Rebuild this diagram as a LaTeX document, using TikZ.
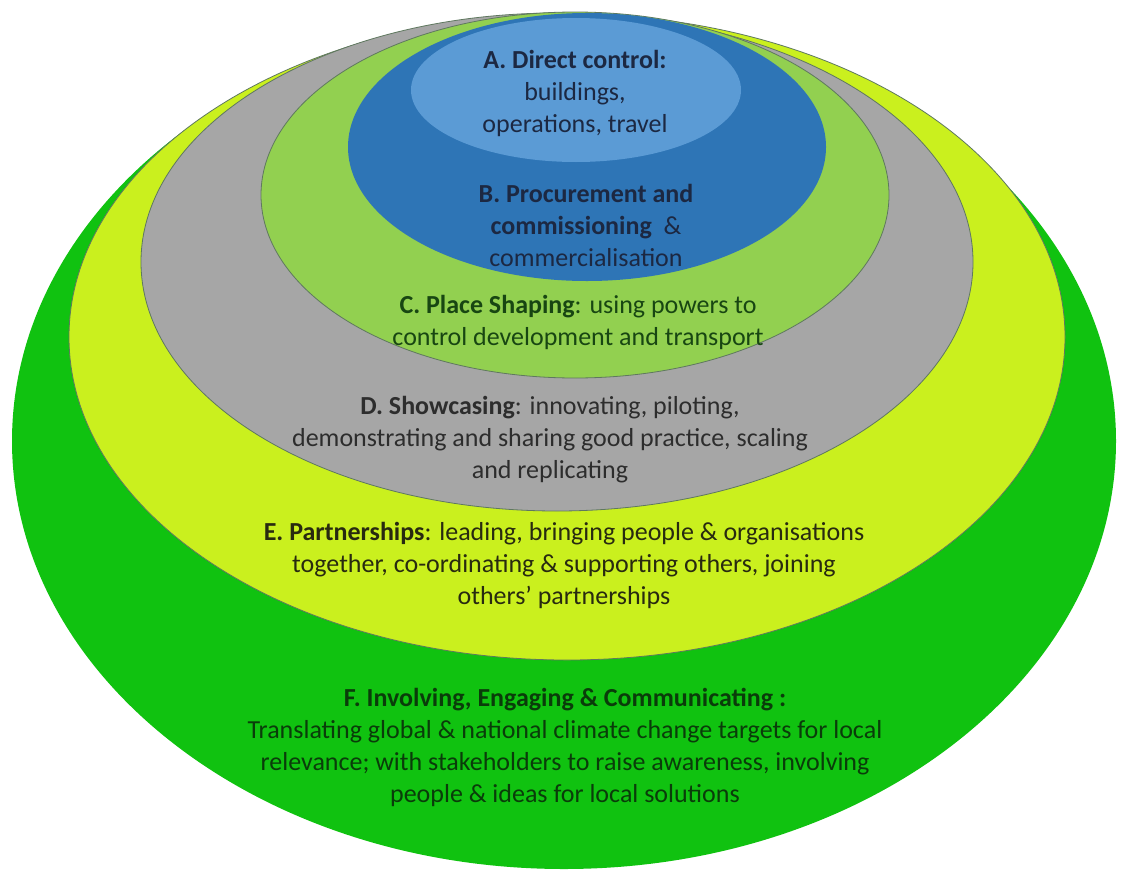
\documentclass[tikz,border=0pt]{standalone}
\usepackage{fontspec}
\setmainfont{Carlito}
\usetikzlibrary{shapes.geometric}
\definecolor{cF}{RGB}{16,194,16}
\definecolor{cE}{RGB}{202,240,30}
\definecolor{cD}{RGB}{166,166,166}
\definecolor{cC}{RGB}{146,208,80}
\definecolor{cB}{RGB}{46,117,182}
\definecolor{cA}{RGB}{91,155,213}
\definecolor{tAB}{RGB}{28,40,66}
\definecolor{tC}{RGB}{24,70,18}
\definecolor{tD}{RGB}{45,45,45}
\definecolor{tE}{RGB}{40,42,16}
\definecolor{tF}{RGB}{10,60,10}
\definecolor{rim}{RGB}{95,120,95}
\begin{document}
\begin{tikzpicture}[x=1pt,y=-1pt,
  ring/.style={ellipse, inner sep=0pt, outer sep=0pt},
  rimmed/.style={draw=rim, line width=0.8pt},
  lbl/.style={align=center, font=\fontsize{26}{32}\selectfont, inner sep=0pt}]
\useasboundingbox (0,0) rectangle (1121,878);
\fill[white] (0,0) rectangle (1121,878);
\node[ring, fill=cF, minimum width=1104pt, minimum height=856pt] (F) at (564,441) {};
\node[ring, rimmed, fill=cE, minimum width=996pt, minimum height=646pt] (E) at (567,337) {};
\node[ring, rimmed, fill=cD, minimum width=832pt, minimum height=498pt] (D) at (557,262) {};
\node[ring, rimmed, fill=cC, minimum width=628pt, minimum height=366pt] (C) at (575,195) {};
\node[ring, fill=cB, minimum width=478pt, minimum height=268pt] (B) at (587,147) {};
\node[ring, fill=cA, minimum width=330pt, minimum height=144pt] (A) at (576,90) {};

\node[lbl, text=tAB] (tA) at (575,93) {\textbf{A. Direct control:}\\buildings,\\operations, travel};
\node[lbl, text=tAB] (tB) at (586,225) {\textbf{B. Procurement and}\\\textbf{commissioning}\ \ \&\\commercialisation};
\node[lbl, text=tC] (tCc) at (578,322) {\textbf{C. Place Shaping}: using powers to\\control development and transport};
\node[lbl, text=tD] (tDd) at (550,440) {\textbf{D. Showcasing}: innovating, piloting,\\demonstrating and sharing good practice, scaling\\and replicating};
\node[lbl, text=tE] (tEe) at (564,565) {\textbf{E. Partnerships}: leading, bringing people \& organisations\\together, co-ordinating \& supporting others, joining\\others’ partnerships};
\node[lbl, text=tF] (tFf) at (565,747) {\textbf{F. Involving, Engaging \& Communicating :}\\Translating global \& national climate change targets for local\\relevance; with stakeholders to raise awareness, involving\\people \& ideas for local solutions};
\end{tikzpicture}
\end{document}
